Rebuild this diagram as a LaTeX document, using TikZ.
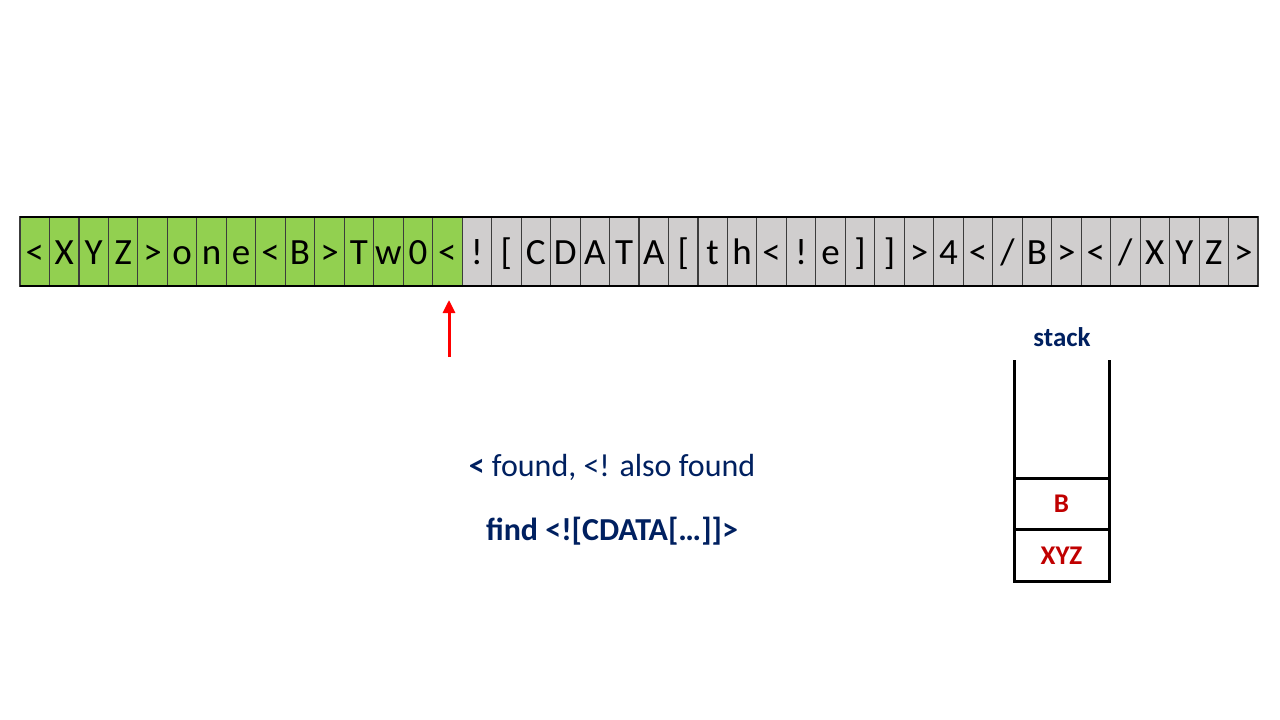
\documentclass[tikz,border=0pt]{standalone}
\usepackage{fontspec}
\setmainfont{Carlito}
\usetikzlibrary{arrows.meta,positioning}
\definecolor{cell_green}{RGB}{146,208,80}
\definecolor{cell_gray}{RGB}{208,206,206}
\definecolor{edge_gray}{RGB}{60,60,60}
\definecolor{text_navy}{RGB}{0,32,96}
\definecolor{text_red}{RGB}{192,0,0}

\begin{document}
\begin{tikzpicture}[x=1pt,y=-1pt]
    \tikzstyle{cell}=[draw=edge_gray, line width=1.1pt, fill=cell_gray, minimum width=29.476pt, minimum height=69pt,
                      inner sep=0pt, outer sep=0pt, text height=25pt, text depth=0pt, font=\fontsize{37}{44}\selectfont]
    \tikzstyle{done}=[style=cell, fill=cell_green]
    \tikzstyle{note}=[text=text_navy, font=\fontsize{32}{38}\selectfont]
    \tikzstyle{slot}=[draw=black, line width=3pt, minimum width=95pt, minimum height=51.5pt, inner sep=0pt, outer sep=0pt,
                      text=text_red, font=\fontsize{27}{32}\selectfont\bfseries]
    \tikzstyle{pointer}=[red, line width=3pt, -{Triangle[width=12pt,length=13pt]}]

    \useasboundingbox (0,0) rectangle (1280,720);

    % input string
    \foreach \ch [count=\i] in {<,X,Y,Z,>,o,n,e,<,B,>,T,w,0,<,!,{[},C,D,A,T,A,{[},t,h,<,!,e,],],>,4,<,/,B,>,<,/,X,Y,Z,>} {
        \ifnum\i<16 \def\st{done}\else\def\st{cell}\fi
        \node[\st] (c\i) at ({20+(\i-0.5)*29.476},251.5) {\ch};
    }
    \draw[line width=1.3pt] (c1.north west) -- (c42.north east);
    \draw[line width=1.3pt] (c1.south west) -- (c42.south east);

    % current position
    \coordinate (ptr) at (449,357);
    \draw[pointer, shorten >=14pt] (ptr) -- (ptr |- c15.south);

    \node[note] (found) at (612,467) {\textbf{<} found, <! also found};
    \node[note, font=\fontsize{32}{38}\selectfont\bfseries] (task) at (612,531) {find <![CDATA[…]]>};

    % stack
    \node[slot] (s1) at (1061.5,555.25) {XYZ};
    \node[slot, above=0pt of s1] (s2) {B};
    \draw[line width=3pt] (s1.south west) -- ++(0,-221) (s1.south east) -- ++(0,-221);
    \node[note, font=\fontsize{27}{32}\selectfont\bfseries] (stk) at (1062,337) {stack};
\end{tikzpicture}
\end{document}
